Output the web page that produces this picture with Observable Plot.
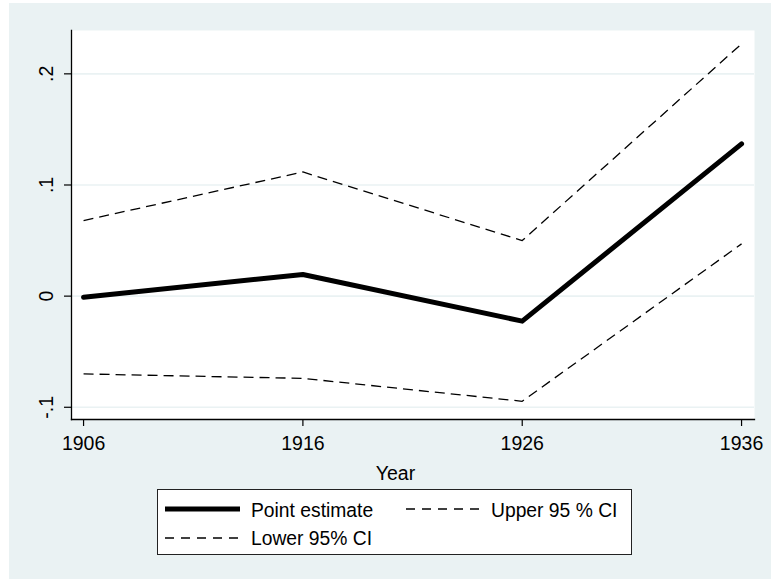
<!DOCTYPE html>
<html><head><meta charset="utf-8">
<script src="https://cdn.jsdelivr.net/npm/d3@7"></script>
<script src="https://cdn.jsdelivr.net/npm/@observablehq/plot@0.6"></script>
<style>
body{margin:0;background:#fff;font-family:"Liberation Sans",Arial,sans-serif;}
#wrap{position:absolute;left:9px;top:3px;width:762px;height:576px;background:#eaf2f3;overflow:hidden;}
#chart svg{display:block;}
#legend{position:absolute;left:147.7px;top:486.3px;width:475px;height:65.7px;box-sizing:border-box;border:1px solid #222;background:#fff;}
.lt{position:absolute;font-size:19.3px;line-height:19px;white-space:nowrap;color:#000;}
.ls{position:absolute;display:block;}
</style></head><body>
<div id="wrap"><div id="chart"></div><div id="legend"></div></div>
<script>
const years = [1906, 1916, 1926, 1936];
const pointEstimate = [-0.001, 0.0195, -0.0225, 0.137];
const upperCI = [0.068, 0.1117, 0.050, 0.227];
const lowerCI = [-0.070, -0.074, -0.0946, 0.047];
const yTicks = [-0.1, 0, 0.1, 0.2];
const yTickLabels = ["-.1", "0", ".1", ".2"];
const seriesNames = ["Point estimate", "Upper 95 % CI", "Lower 95% CI"];
const xLabel = "Year";

const mk = (vals) => years.map((yr, i) => ({year: yr, value: vals[i]}));
const pe = mk(pointEstimate), up = mk(upperCI), lo = mk(lowerCI);

const BG = "#eaf2f3";
const FONT = "'Liberation Sans', Arial, sans-serif";
const FS = 19.5;

const plot = Plot.plot({
  width: 762, height: 480,
  marginLeft: 62, marginRight: 17, marginTop: 27, marginBottom: 64,
  style: {background: "transparent", fontFamily: FONT, fontSize: FS + "px", color: "#000", overflow: "visible"},
  x: {domain: [1905.45, 1936.59]},
  y: {domain: [-0.111, 0.239]},
  marks: [
    Plot.frame({fill: "#fff", stroke: null}),
    Plot.gridY(yTicks, {stroke: BG, strokeOpacity: 1, strokeWidth: 1.6}),
    Plot.line(up, {x: "year", y: "value", stroke: "#000", strokeWidth: 1.3, strokeDasharray: "10,6", strokeLinecap: "butt"}),
    Plot.line(lo, {x: "year", y: "value", stroke: "#000", strokeWidth: 1.3, strokeDasharray: "10,6", strokeLinecap: "butt"}),
    Plot.line(pe, {x: "year", y: "value", stroke: "#000", strokeWidth: 5}),
    Plot.frame({anchor: "left", stroke: "#000", strokeWidth: 1.3}),
    Plot.frame({anchor: "bottom", stroke: "#000", strokeWidth: 1.3}),
    Plot.axisX(years, {tickSize: 7, tickPadding: 10, label: null, fontSize: FS, tickFormat: d => String(d), strokeWidth: 1.2}),
    Plot.axisY(yTicks, {tickSize: 7, tickPadding: 12, tickRotate: -90, label: null, fontSize: FS,
      tickFormat: d => yTickLabels[yTicks.indexOf(d)], strokeWidth: 1.2}),
    Plot.text([xLabel], {frameAnchor: "bottom", text: d => d, dx: -17.5, dy: 60, lineAnchor: "bottom", fontSize: FS, fill: "#000"})
  ]
});
document.getElementById("chart").appendChild(plot);

// Legend
const legend = document.getElementById("legend");
const items = [
  {name: seriesNames[0], sx: 7.3, tx: 93.3, row: 0, solid: true},
  {name: seriesNames[1], sx: 248.3, tx: 333.3, row: 0, solid: false},
  {name: seriesNames[2], sx: 7.3, tx: 93.3, row: 1, solid: false}
];
const rowCenter = [19.2, 47.7];
const rowTextTop = [10.3, 38.6];
for (const it of items) {
  const sw = 75;
  const s = d3.create("svg").attr("class", "ls").attr("width", sw).attr("height", 10)
    .style("left", it.sx + "px").style("top", (rowCenter[it.row] - 5) + "px");
  s.append("line").attr("x1", 0).attr("x2", it.solid ? sw : 73).attr("y1", 5).attr("y2", 5)
    .attr("stroke", "#000")
    .attr("stroke-width", it.solid ? 5 : 1.3)
    .attr("stroke-dasharray", it.solid ? null : "9,7")
    .attr("stroke-linecap", it.solid ? "round" : "butt");
  legend.appendChild(s.node());
  const t = document.createElement("div");
  t.className = "lt";
  t.textContent = it.name;
  t.style.left = it.tx + "px";
  t.style.top = rowTextTop[it.row] + "px";
  legend.appendChild(t);
}
</script>
</body></html>
